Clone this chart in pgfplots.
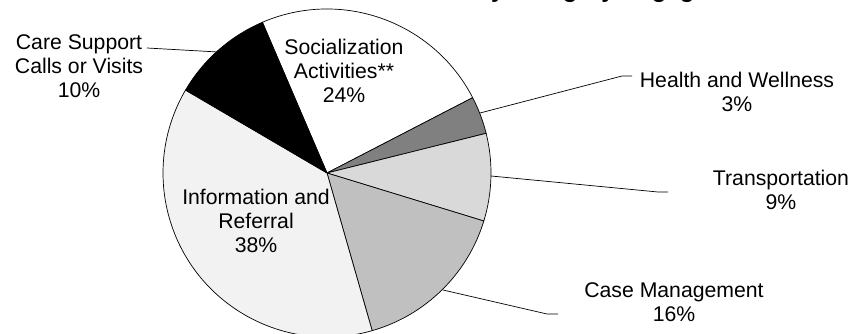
\documentclass[border=0pt]{standalone}
\usepackage{pgfplots}
\pgfplotsset{compat=1.18}
\usepackage{fontspec}
\setmainfont{Liberation Sans}
\definecolor{cSoc}{HTML}{FFFFFF}
\definecolor{cHea}{HTML}{808080}
\definecolor{cTra}{HTML}{D9D9D9}
\definecolor{cCas}{HTML}{C0C0C0}
\definecolor{cInf}{HTML}{F2F2F2}
\definecolor{cCar}{HTML}{000000}
% values (percent of services)
\def\vSoc{23.8}
\def\vHea{3.7}
\def\vTra{8.6}
\def\vCas{15.8}
\def\vInf{37.8}
\def\vCar{10.1}
\begin{document}
\begin{tikzpicture}
\pgfmathsetmacro\tot{\vSoc+\vHea+\vTra+\vCas+\vInf+\vCar}
\pgfmathsetmacro\aA{113.2}
\pgfmathsetmacro\aB{\aA-360*\vSoc/\tot}
\pgfmathsetmacro\aC{\aB-360*\vHea/\tot}
\pgfmathsetmacro\aD{\aC-360*\vTra/\tot}
\pgfmathsetmacro\aE{\aD-360*\vCas/\tot}
\pgfmathsetmacro\aF{\aE-360*\vInf/\tot}
\pgfmathsetmacro\aG{\aF-360*\vCar/\tot}
\begin{axis}[width=853bp,height=334bp,scale only axis,
  xmin=0,xmax=853,ymin=0,ymax=334,hide axis,clip=false]
\def\slice#1#2#3{\filldraw[fill=#3,draw=black,line width=0.7bp] (axis cs:327,161) -- ++(#1:164bp) arc[start angle=#1,end angle=#2,radius=164bp] -- cycle;}
\slice{\aA}{\aB}{cSoc}
\slice{\aB}{\aC}{cHea}
\slice{\aC}{\aD}{cTra}
\slice{\aD}{\aE}{cCas}
\slice{\aE}{\aF}{cInf}
\slice{\aF}{\aG}{cCar}
% leader lines
\draw[line width=0.7bp] (axis cs:147,286) -- (axis cs:218,282);
\draw[line width=0.7bp] (axis cs:480,221) -- (axis cs:622,258) -- (axis cs:632,258);
\draw[line width=0.7bp] (axis cs:491,158) -- (axis cs:658,142) -- (axis cs:668,142);
\draw[line width=0.7bp] (axis cs:443,44) -- (axis cs:547,20) -- (axis cs:558,20);
% labels
\tikzset{lab/.style={align=center,inner sep=0pt,font=\fontsize{21.3}{24}\selectfont}}
\node[lab] at (axis cs:344,263) {Socialization\\Activities**\\24\%};
\node[lab] at (axis cs:256,113) {Information and\\Referral\\38\%};
\node[lab] at (axis cs:79,268) {Care Support\\Calls or Visits\\10\%};
\node[lab] at (axis cs:737,242) {Health and Wellness\\3\%};
\node[lab] at (axis cs:781,144) {Transportation\\9\%};
\node[lab] at (axis cs:674,32) {Case Management\\16\%};
\node[font=\bfseries\fontsize{24}{28}\selectfont,anchor=base] at (axis cs:547,336) {Services by Category Engaged};
\end{axis}
\pgfresetboundingbox
\useasboundingbox (current axis.south west) rectangle (current axis.north east);
\end{tikzpicture}
\end{document}
